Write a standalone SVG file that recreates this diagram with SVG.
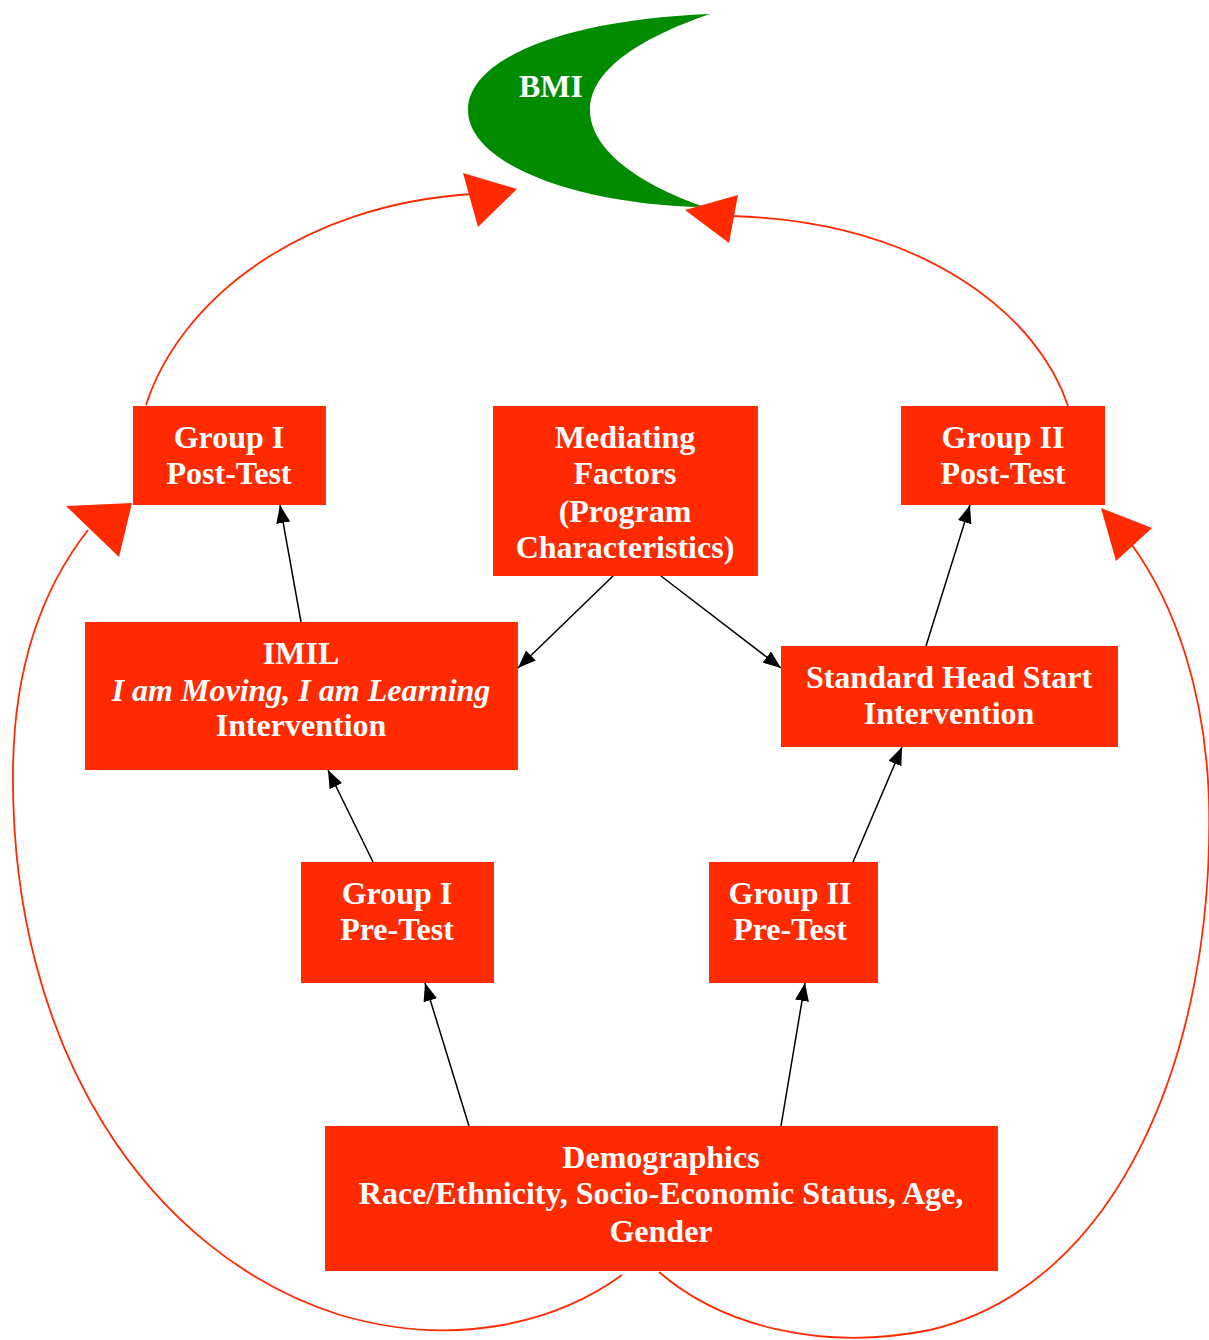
<svg xmlns="http://www.w3.org/2000/svg" width="1209" height="1340" viewBox="0 0 1209 1340">
<style>
.n{fill:#ff2a00}
.t{font-family:"Liberation Serif","Times New Roman",serif;font-weight:bold;font-size:32px;fill:#fff;text-anchor:middle}
.i{font-style:italic}
.e{fill:none;stroke:#000;stroke-width:1.5}
.r{fill:none;stroke:#ff2a00;stroke-width:1.8}
.rh{fill:#ff2a00}
</style>
<defs>
<marker id="ah" markerUnits="userSpaceOnUse" markerWidth="18" markerHeight="14" refX="18" refY="7" orient="auto">
<path d="M0,0 L18,7 L0,14 z" fill="#000"/>
</marker>
</defs>
<rect width="1209" height="1340" fill="#fff"/>
<g id="bmi">
<path d="M710,14 C560,20 468,60 468,110 C468,165 580,205 705,207 C640,185 590,150 590,110 C590,70 640,38 710,14 Z" fill="#008b00"/>
<text class="t" x="551" y="97">BMI</text>
</g>
<g id="connectors">
<path class="e" marker-end="url(#ah)" d="M301,622 L280,505"/>
<path class="e" marker-end="url(#ah)" d="M613,576 L518,668"/>
<path class="e" marker-end="url(#ah)" d="M661,576 L781,668"/>
<path class="e" marker-end="url(#ah)" d="M926,646 L970,505"/>
<path class="e" marker-end="url(#ah)" d="M373,862 L328,770"/>
<path class="e" marker-end="url(#ah)" d="M853,862 L902,747"/>
<path class="e" marker-end="url(#ah)" d="M469,1126 L425,983"/>
<path class="e" marker-end="url(#ah)" d="M781,1126 L805,983"/>
<path class="r" d="M146,405 C180,300 300,205 472,194"/>
<polygon class="rh" points="517,189 463,173 478,227"/>
<path class="r" d="M1068,406 C1040,320 930,222 732,216"/>
<polygon class="rh" points="685,210 738,195 729,243"/>
<path class="r" d="M622,1275 C560,1320 460,1350 340,1315 C150,1255 10,1050 13,770 C14,660 45,585 88,530"/>
<polygon class="rh" points="132,503 66,506 119,557"/>
<path class="r" d="M659,1272 C720,1325 820,1352 930,1330 C1120,1285 1215,1050 1209,800 C1205,690 1175,605 1132,545"/>
<polygon class="rh" points="1101,508 1152,528 1116,561"/>
</g>
<g id="g1post">
<rect class="n" x="133" y="406" width="193" height="99"/>
<text class="t" x="229" y="448">Group I</text>
<text class="t" x="229" y="484">Post-Test</text>
</g>
<g id="mediating">
<rect class="n" x="493" y="406" width="265" height="170"/>
<text class="t" x="625" y="448">Mediating</text>
<text class="t" x="625" y="484">Factors</text>
<text class="t" x="625" y="522">(Program</text>
<text class="t" x="625" y="558">Characteristics)</text>
</g>
<g id="g2post">
<rect class="n" x="901" y="406" width="204" height="99"/>
<text class="t" x="1003" y="448">Group II</text>
<text class="t" x="1003" y="484">Post-Test</text>
</g>
<g id="imil">
<rect class="n" x="85" y="622" width="433" height="148"/>
<text class="t" x="301" y="664">IMIL</text>
<text class="t i" x="301" y="701">I am Moving, I am Learning</text>
<text class="t" x="301" y="736">Intervention</text>
</g>
<g id="standard">
<rect class="n" x="781" y="646" width="337" height="101"/>
<text class="t" x="949" y="688">Standard Head Start</text>
<text class="t" x="949" y="724">Intervention</text>
</g>
<g id="g1pre">
<rect class="n" x="301" y="862" width="193" height="121"/>
<text class="t" x="397" y="904">Group I</text>
<text class="t" x="397" y="940">Pre-Test</text>
</g>
<g id="g2pre">
<rect class="n" x="709" y="862" width="169" height="121"/>
<text class="t" x="790" y="904">Group II</text>
<text class="t" x="790" y="940">Pre-Test</text>
</g>
<g id="demographics">
<rect class="n" x="325" y="1126" width="673" height="145"/>
<text class="t" x="661" y="1168">Demographics</text>
<text class="t" x="661" y="1204">Race/Ethnicity, Socio-Economic Status, Age,</text>
<text class="t" x="661" y="1242">Gender</text>
</g>
</svg>
